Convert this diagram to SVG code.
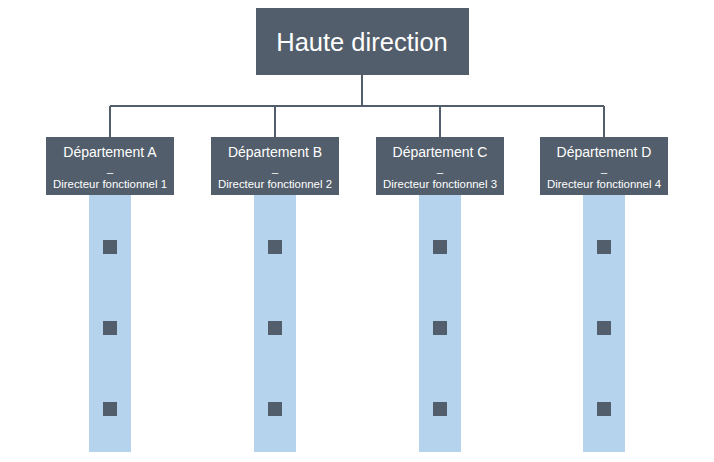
<svg xmlns="http://www.w3.org/2000/svg" width="714" height="462" viewBox="0 0 714 462">
<style>
.box{fill:#525e6b}.col{fill:#b5d3ec}.sq{fill:#525e6b}
.t{font-family:"Liberation Sans",sans-serif;fill:#fff;text-anchor:middle}
.ln{stroke:#525e6b;stroke-width:2;fill:none}
</style>
<rect width="714" height="462" fill="#fff"/>
<g id="connectors">
<path class="ln" d="M362 75V106M110 106H604M110 106V137M275 106V137M440 106V137M604 106V137"/>
</g>
<g id="top"><rect class="box" x="256" y="8" width="213" height="67"/><text class="t" x="362" y="51" font-size="25.5">Haute direction</text></g>
<g id="deptA"><rect class="col" x="89" y="195" width="42" height="257"/><rect class="box" x="46" y="137" width="128" height="58"/>
<text class="t" x="110" y="157" font-size="14">Département A</text><text class="t" x="110" y="172" font-size="11">_</text><text class="t" x="110" y="188" font-size="11.4">Directeur fonctionnel 1</text>
<rect class="sq" x="103" y="240" width="14" height="14"/><rect class="sq" x="103" y="321" width="14" height="14"/><rect class="sq" x="103" y="402" width="14" height="14"/></g>
<g id="deptB"><rect class="col" x="254" y="195" width="42" height="257"/><rect class="box" x="211" y="137" width="128" height="58"/>
<text class="t" x="275" y="157" font-size="14">Département B</text><text class="t" x="275" y="172" font-size="11">_</text><text class="t" x="275" y="188" font-size="11.4">Directeur fonctionnel 2</text>
<rect class="sq" x="268" y="240" width="14" height="14"/><rect class="sq" x="268" y="321" width="14" height="14"/><rect class="sq" x="268" y="402" width="14" height="14"/></g>
<g id="deptC"><rect class="col" x="419" y="195" width="42" height="257"/><rect class="box" x="376" y="137" width="128" height="58"/>
<text class="t" x="440" y="157" font-size="14">Département C</text><text class="t" x="440" y="172" font-size="11">_</text><text class="t" x="440" y="188" font-size="11.4">Directeur fonctionnel 3</text>
<rect class="sq" x="433" y="240" width="14" height="14"/><rect class="sq" x="433" y="321" width="14" height="14"/><rect class="sq" x="433" y="402" width="14" height="14"/></g>
<g id="deptD"><rect class="col" x="583" y="195" width="42" height="257"/><rect class="box" x="540" y="137" width="128" height="58"/>
<text class="t" x="604" y="157" font-size="14">Département D</text><text class="t" x="604" y="172" font-size="11">_</text><text class="t" x="604" y="188" font-size="11.4">Directeur fonctionnel 4</text>
<rect class="sq" x="597" y="240" width="14" height="14"/><rect class="sq" x="597" y="321" width="14" height="14"/><rect class="sq" x="597" y="402" width="14" height="14"/></g>
</svg>
